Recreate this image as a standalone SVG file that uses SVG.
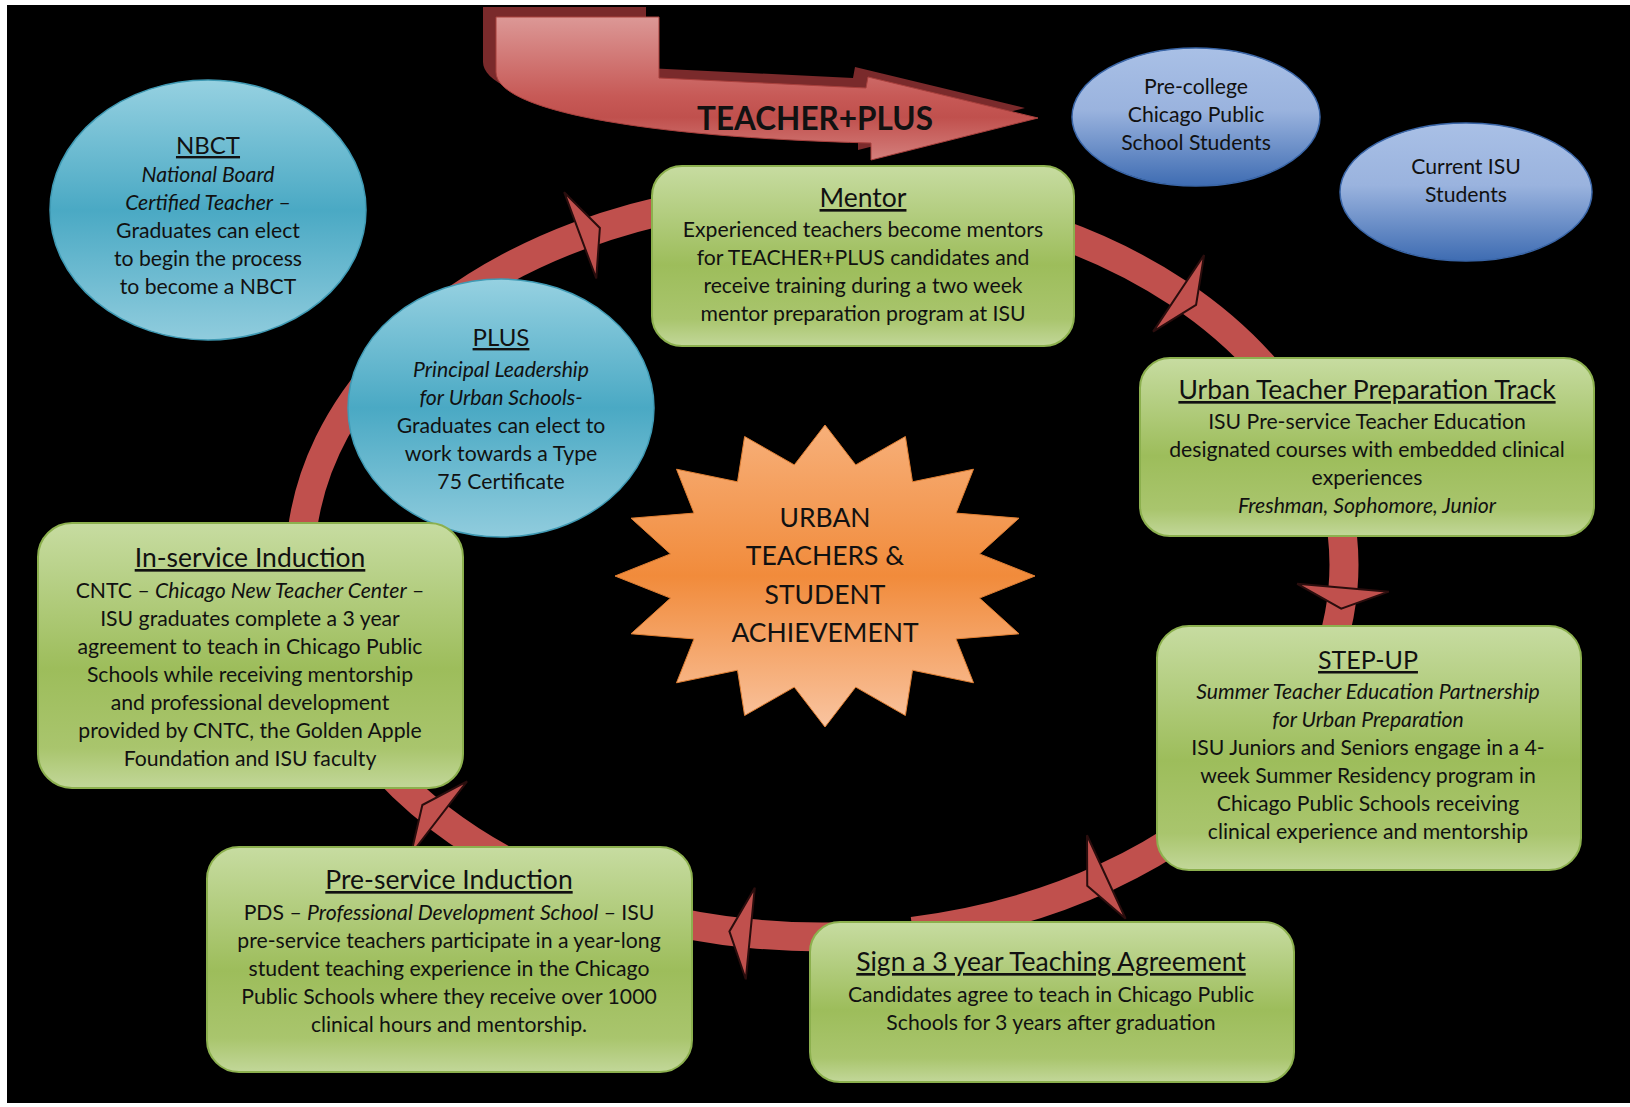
<svg xmlns="http://www.w3.org/2000/svg" width="1630" height="1107" viewBox="0 0 1630 1107">
<defs>
<style>
text{font-family:Lato,"Liberation Sans",sans-serif;fill:#111;text-anchor:middle}
.t{font-size:24px;text-decoration:underline}
.tm{font-size:26.5px;text-decoration:underline}
.b{font-size:21.2px}
.i{font-style:italic}
.box{fill:url(#gGreen);stroke:#8cb04e;stroke-width:2}
.teal{fill:url(#gTeal);stroke:#3f9ab4;stroke-width:1.5}
.blue{fill:url(#gBlue);stroke:#3a66a8;stroke-width:1.5}
.band{fill:none;stroke:#c0504d;stroke-width:29;marker-mid:url(#ah)}
.star{font-size:26.5px}
</style>
<linearGradient id="gGreen" x1="0" y1="0" x2="0" y2="1">
<stop offset="0" stop-color="#c7dca1"/>
<stop offset="0.55" stop-color="#9dbd5b"/>
<stop offset="0.85" stop-color="#a9c56d"/>
<stop offset="1" stop-color="#c2d799"/>
</linearGradient>
<linearGradient id="gTeal" x1="0" y1="0" x2="0" y2="1">
<stop offset="0" stop-color="#96d1e1"/>
<stop offset="0.5" stop-color="#4aa9c4"/>
<stop offset="1" stop-color="#90ccdd"/>
</linearGradient>
<linearGradient id="gBlue" x1="0" y1="0" x2="0" y2="1">
<stop offset="0" stop-color="#a9c0e6"/>
<stop offset="0.45" stop-color="#9ab3de"/>
<stop offset="1" stop-color="#3e6cb2"/>
</linearGradient>
<linearGradient id="gOrange" x1="0" y1="0" x2="0" y2="1">
<stop offset="0" stop-color="#f7b07a"/>
<stop offset="0.5" stop-color="#f18b3b"/>
<stop offset="1" stop-color="#f9c4a0"/>
</linearGradient>
<linearGradient id="gRed" x1="0" y1="0" x2="0" y2="1">
<stop offset="0" stop-color="#dc9896"/>
<stop offset="0.55" stop-color="#c75a57"/>
<stop offset="0.7" stop-color="#c0504d"/>
<stop offset="1" stop-color="#d47f7c"/>
</linearGradient>
<marker id="ah" markerUnits="userSpaceOnUse" viewBox="-4 -50 30 100" markerWidth="30" markerHeight="100" refX="0" refY="0" orient="auto">
<path d="M0,-46 L21,0 L0,46 Z" fill="#c0504d" stroke="#2a0d0d" stroke-width="2"/>
</marker>
</defs>

<rect width="1630" height="1107" fill="#ffffff"/>
<rect x="7" y="5" width="1623" height="1098" fill="#000000"/>

<g id="connectors">
<path class="band" d="M912.6,198.7 A522,372 0 0 1 1178.6,293.3 A522,372 0 0 1 1264.7,367.9"/>
<path class="band" d="M1336.1,500.4 A522,372 0 0 1 1343.0,587.7 A522,372 0 0 1 1332.6,642.3"/>
<path class="band" d="M1274.1,751 A522,372 0 0 1 1106.3,877.0 A522,372 0 0 1 912.6,931.3"/>
<path class="band" d="M867.5,935.6 A522,372 0 0 1 750.3,933.5 A522,372 0 0 1 643.5,914.6"/>
<path class="band" d="M576.9,893.5 A522,372 0 0 1 439.0,817.8 A522,372 0 0 1 369.9,751"/>
<path class="band" d="M302.0,532.6 A522,372 0 0 1 580.2,235.3 A522,372 0 0 1 686.9,205.7"/>
</g>

<g id="teacher-plus">
<path d="M496,17 H659 V78 L866,88 L868,77 L1038,118 L871,160 L871,143 C640,137 496,110 496,72 Z" fill="#7a2a2b" transform="translate(-13,-10)"/>
<path d="M496,17 H659 V78 L866,88 L868,77 L1038,118 L871,160 L871,143 C640,137 496,110 496,72 Z" fill="url(#gRed)" stroke="#a8403d" stroke-width="1"/>
<text x="815" y="130" style="font-size:31.5px;font-weight:bold">TEACHER+PLUS</text>
</g>

<g id="nbct">
<ellipse class="teal" cx="208" cy="210" rx="158" ry="130"/>
<text class="t" x="208" y="154">NBCT</text>
<text class="b i" x="208" y="182">National Board</text>
<text class="b" x="208" y="210"><tspan class="i">Certified Teacher</tspan> –</text>
<text class="b" x="208" y="238">Graduates can elect</text>
<text class="b" x="208" y="266">to begin the process</text>
<text class="b" x="208" y="294">to become a NBCT</text>
</g>

<g id="precollege">
<ellipse class="blue" cx="1196" cy="117" rx="124" ry="69"/>
<text class="b" x="1196" y="94">Pre-college</text>
<text class="b" x="1196" y="122">Chicago Public</text>
<text class="b" x="1196" y="150">School Students</text>
</g>

<g id="current-isu">
<ellipse class="blue" cx="1466" cy="192" rx="126" ry="69"/>
<text class="b" x="1466" y="174">Current ISU</text>
<text class="b" x="1466" y="202">Students</text>
</g>

<g id="mentor">
<rect class="box" x="652" y="166" width="422" height="180" rx="30"/>
<text class="tm" x="863" y="207">Mentor</text>
<text class="b" x="863" y="237">Experienced teachers become mentors</text>
<text class="b" x="863" y="265">for TEACHER+PLUS candidates and</text>
<text class="b" x="863" y="293">receive training during a two week</text>
<text class="b" x="863" y="321">mentor preparation program at ISU</text>
</g>

<g id="plus">
<ellipse class="teal" cx="501" cy="408" rx="153" ry="129"/>
<text class="t" x="501" y="346">PLUS</text>
<text class="b i" x="501" y="377">Principal Leadership</text>
<text class="b i" x="501" y="405">for Urban Schools-</text>
<text class="b" x="501" y="433">Graduates can elect to</text>
<text class="b" x="501" y="461">work towards a Type</text>
<text class="b" x="501" y="489">75 Certificate</text>
</g>

<g id="urban-track">
<rect class="box" x="1140" y="358" width="454" height="178" rx="30"/>
<text class="tm" x="1367" y="399">Urban Teacher Preparation Track</text>
<text class="b" x="1367" y="429">ISU Pre-service Teacher Education</text>
<text class="b" x="1367" y="457">designated courses with embedded clinical</text>
<text class="b" x="1367" y="485">experiences</text>
<text class="b i" x="1367" y="513">Freshman, Sophomore, Junior</text>
</g>

<g id="step-up">
<rect class="box" x="1157" y="626" width="424" height="244" rx="32"/>
<text class="t" x="1368" y="669" style="font-size:25px">STEP-UP</text>
<text class="b i" x="1368" y="699">Summer Teacher Education Partnership</text>
<text class="b i" x="1368" y="727">for Urban Preparation</text>
<text class="b" x="1368" y="755">ISU Juniors and Seniors engage in a 4-</text>
<text class="b" x="1368" y="783">week Summer Residency program in</text>
<text class="b" x="1368" y="811">Chicago Public Schools receiving</text>
<text class="b" x="1368" y="839">clinical experience and mentorship</text>
</g>

<g id="sign-agreement">
<rect class="box" x="810" y="922" width="484" height="160" rx="30"/>
<text class="tm" x="1051" y="971">Sign a 3 year Teaching Agreement</text>
<text class="b" x="1051" y="1002">Candidates agree to teach in Chicago Public</text>
<text class="b" x="1051" y="1030">Schools for 3 years after graduation</text>
</g>

<g id="pre-service">
<rect class="box" x="207" y="847" width="485" height="225" rx="32"/>
<text class="tm" x="449" y="889">Pre-service Induction</text>
<text class="b" x="449" y="920">PDS – <tspan class="i">Professional Development School</tspan> – ISU</text>
<text class="b" x="449" y="948">pre-service teachers participate in a year-long</text>
<text class="b" x="449" y="976">student teaching experience in the Chicago</text>
<text class="b" x="449" y="1004">Public Schools where they receive over 1000</text>
<text class="b" x="449" y="1032">clinical hours and mentorship.</text>
</g>

<g id="in-service">
<rect class="box" x="38" y="523" width="425" height="265" rx="34"/>
<text class="tm" x="250" y="567">In-service Induction</text>
<text class="b" x="250" y="598">CNTC – <tspan class="i">Chicago New Teacher Center</tspan> –</text>
<text class="b" x="250" y="626">ISU graduates complete a 3 year</text>
<text class="b" x="250" y="654">agreement to teach in Chicago Public</text>
<text class="b" x="250" y="682">Schools while receiving mentorship</text>
<text class="b" x="250" y="710">and professional development</text>
<text class="b" x="250" y="738">provided by CNTC, the Golden Apple</text>
<text class="b" x="250" y="766">Foundation and ISU faculty</text>
</g>

<g id="center-star">
<polygon fill="url(#gOrange)" stroke="#e07f33" stroke-width="1" points="825,425 855.7,464.9 905.4,436.5 912.5,481.8 973.5,469.2 956,513.1 1019,518.2 979.5,553.9 1035,576 979.5,598.1 1019,633.8 956,638.9 973.5,682.8 912.5,670.2 905.4,715.5 855.7,687.1 825,727 794.3,687.1 744.6,715.5 737.5,670.2 676.5,682.8 694,638.9 631,633.8 670.5,598.1 615,576 670.5,553.9 631,518.2 694,513.1 676.5,469.2 737.5,481.8 744.6,436.5 794.3,464.9"/>
<text class="star" x="825" y="527">URBAN</text>
<text class="star" x="825" y="565">TEACHERS &amp;</text>
<text class="star" x="825" y="604">STUDENT</text>
<text class="star" x="825" y="642">ACHIEVEMENT</text>
</g>
</svg>
